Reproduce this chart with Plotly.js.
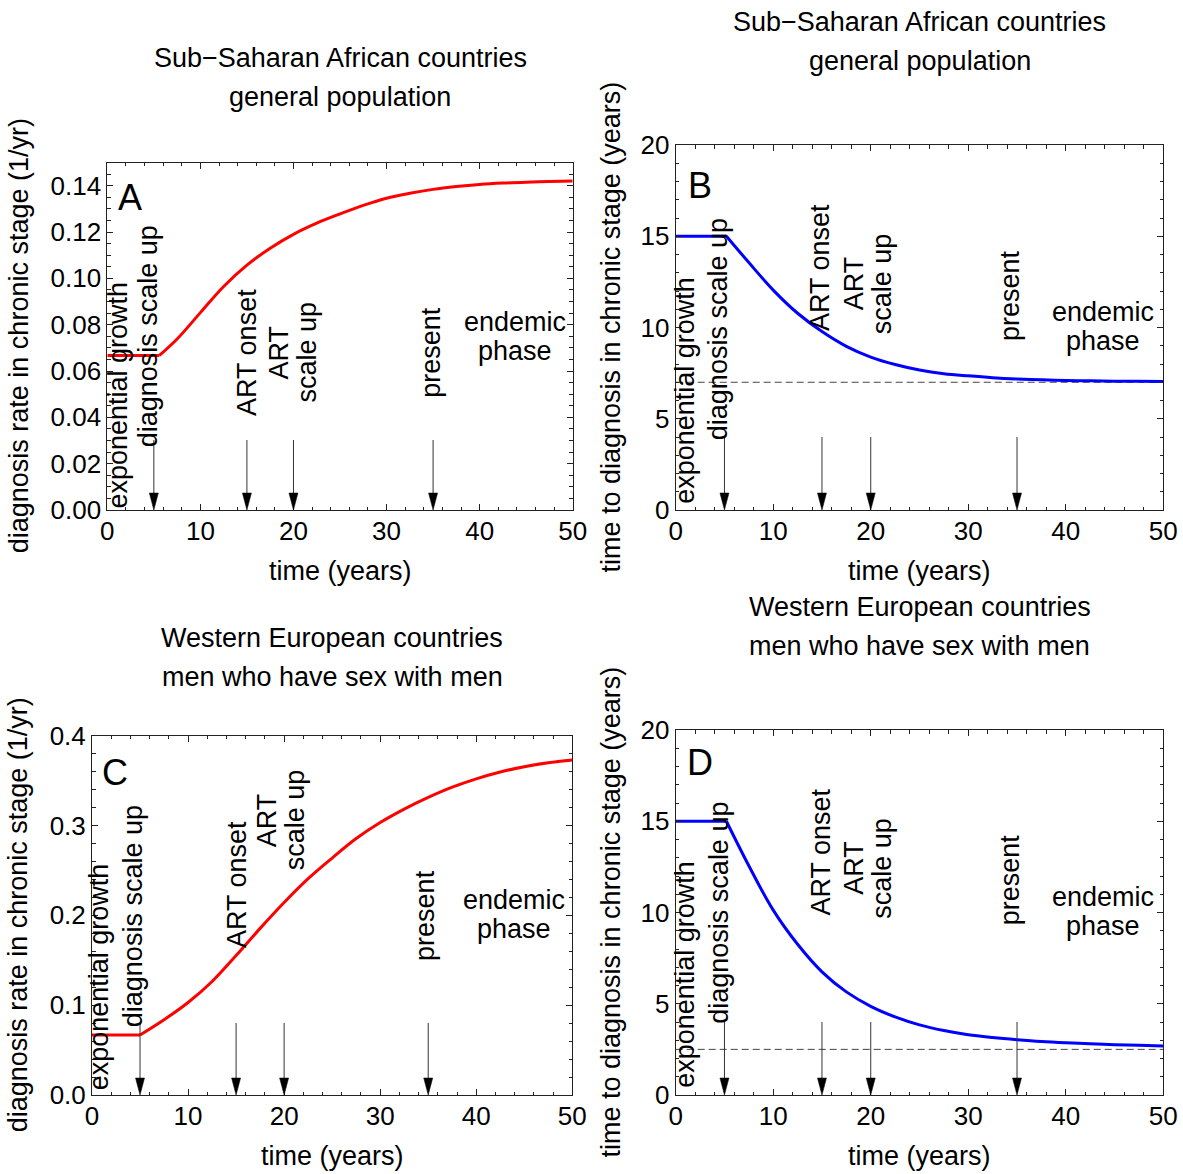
<!DOCTYPE html>
<html>
<head>
<meta charset="utf-8">
<script src="https://cdn.plot.ly/plotly-3.0.1.min.js"></script>
<style>
  html, body { margin: 0; padding: 0; background: #fff; }
  #chart { width: 1183px; height: 1174px; }
</style>
</head>
<body>
<div id="chart"></div>
<script>
const FONT = '"Liberation Sans", Arial, Helvetica, sans-serif';

// Sub-Saharan African countries, general population: diagnosis rate (1/yr)
const tA    = [0, 5.6, 7.5, 10, 12.5, 15, 17.5, 20, 22.5, 25, 27.5, 30, 32.5, 35, 37.5, 40, 42.5, 45, 47.5, 50];
const rateA = [0.0667, 0.0667, 0.0738, 0.0852, 0.0965, 0.1057, 0.1130, 0.1190, 0.1238, 0.1278, 0.1315, 0.1346, 0.1367, 0.1384, 0.1396, 0.1405, 0.1411, 0.1415, 0.1418, 0.1420];

// Sub-Saharan African countries, general population: time to diagnosis (years)
const tB    = [0, 5.2, 7.5, 10, 12.5, 15, 17.5, 20, 22.5, 25, 27.5, 30, 32.5, 35, 37.5, 40, 42.5, 45, 47.5, 50];
const timeB = [15, 15, 13.56, 12.05, 10.78, 9.78, 8.97, 8.38, 7.97, 7.67, 7.47, 7.35, 7.25, 7.18, 7.135, 7.10, 7.08, 7.06, 7.05, 7.04];

// Western European countries, MSM: diagnosis rate (1/yr)
const tC    = [0, 5, 7.5, 10, 12.5, 15, 17.5, 20, 22.5, 25, 27.5, 30, 32.5, 35, 37.5, 40, 42.5, 45, 47.5, 50];
const rateC = [0.0668, 0.0668, 0.0838, 0.1030, 0.1264, 0.1553, 0.1855, 0.2143, 0.2408, 0.2638, 0.2855, 0.3033, 0.3183, 0.3313, 0.3427, 0.3520, 0.3596, 0.3655, 0.3698, 0.3729];

// Western European countries, MSM: time to diagnosis (years)
const tD    = [0, 5.2, 7.5, 10, 12.5, 15, 17.5, 20, 22.5, 25, 27.5, 30, 32.5, 35, 37.5, 40, 42.5, 45, 47.5, 50];
const timeD = [15, 15, 12.56, 10.13, 8.26, 6.75, 5.65, 4.86, 4.28, 3.84, 3.53, 3.30, 3.15, 3.03, 2.93, 2.86, 2.81, 2.76, 2.72, 2.68];

// long-run (endemic) time to diagnosis
const asymptoteB = 7;
const asymptoteD = 2.5;

// epidemic milestones (years)
const eventTimes = [5, 15, 20, 35];

const titleLinesTop = ['Sub\u2212Saharan African countries', 'general population'];
const titleLinesBottom = ['Western European countries', 'men who have sex with men'];
const rateTitle = 'diagnosis rate in chronic stage (1/yr)';
const timeTitle = 'time to diagnosis in chronic stage (years)';
const xTitle = 'time (years)';

const W = 1183, H = 1174;

const panels = [
  { letter: 'A', xa: 'x', ya: 'y', t: tA, v: rateA, color: '#ff0000', asym: null,
    box: { l: 107.3, r: 572.7, t: 162.5, b: 510 },
    yRange: [0, 0.15], yDtick: 0.02, yMinor: 0.005, yFormat: '.2f',
    title: titleLinesTop, titleY: [58, 97], yTitle: rateTitle, yTitleX: 19, xTitleY: 571,
    arrowLen: 70,
    pos: { letter: [2.45, 0.1349], expo: [1.2, 0.0496], diag: [4.4, 0.0751], onset: [15.0, 0.0682],
           scale: [20.0, 0.0682], present: [34.8, 0.068], endemic: [43.8, 0.0751] } },
  { letter: 'B', xa: 'x2', ya: 'y2', t: tB, v: timeB, color: '#0000ff', asym: asymptoteB,
    box: { l: 675.7, r: 1163.3, t: 145, b: 510 },
    yRange: [0, 20], yDtick: 5, yMinor: 1, yFormat: 'd',
    title: titleLinesTop, titleY: [22, 61], yTitle: timeTitle, yTitleX: 610, xTitleY: 571,
    arrowLen: 73,
    pos: { letter: [2.5, 17.8], expo: [0.94, 6.58], diag: [4.36, 9.92], onset: [14.86, 13.29],
           scale: [19.7, 12.41], present: [34.3, 11.73], endemic: [43.8, 10.04] } },
  { letter: 'C', xa: 'x3', ya: 'y3', t: tC, v: rateC, color: '#ff0000', asym: null,
    box: { l: 92, r: 572.3, t: 735.7, b: 1095 },
    yRange: [0, 0.4], yDtick: 0.1, yMinor: 0.02, yFormat: '.1f',
    title: titleLinesBottom, titleY: [638, 677], yTitle: rateTitle, yTitleX: 18, xTitleY: 1156,
    arrowLen: 72,
    pos: { letter: [2.4, 0.359], expo: [0.82, 0.132], diag: [4.29, 0.1993], onset: [15.1, 0.2338],
           scale: [19.7, 0.3061], present: [34.66, 0.2004], endemic: [43.93, 0.2004] } },
  { letter: 'D', xa: 'x4', ya: 'y4', t: tD, v: timeD, color: '#0000ff', asym: asymptoteD,
    box: { l: 675.7, r: 1163.3, t: 730, b: 1095 },
    yRange: [0, 20], yDtick: 5, yMinor: 1, yFormat: 'd',
    title: titleLinesBottom, titleY: [607, 646], yTitle: timeTitle, yTitleX: 610, xTitleY: 1156,
    arrowLen: 73,
    pos: { letter: [2.5, 18.22], expo: [0.94, 6.63], diag: [4.36, 10.0], onset: [14.86, 13.32],
           scale: [19.7, 12.44], present: [34.3, 11.78], endemic: [43.8, 10.04] } }
];

const AXIS_COLOR = '#222';
const tickFont = { family: FONT, size: 26, color: '#000' };
const textFont = { family: FONT, size: 27, color: '#000' };

function axisKey(id) { return (id[0] === 'x' ? 'xaxis' : 'yaxis') + id.slice(1); }

function frameAxis(extra) {
  return Object.assign({
    ticks: 'inside', ticklen: 6, tickwidth: 1, tickcolor: AXIS_COLOR,
    showline: true, linecolor: AXIS_COLOR, linewidth: 1, mirror: 'allticks',
    showgrid: false, zeroline: false, tickfont: tickFont, fixedrange: true
  }, extra);
}

const traces = [];
const shapes = [];
const annotations = [];
const layout = {
  width: W, height: H,
  margin: { l: 0, r: 0, t: 0, b: 0 },
  paper_bgcolor: '#fff', plot_bgcolor: '#fff',
  showlegend: false,
  font: { family: FONT, color: '#000' }
};

function text(str, p, x, y, opt) {
  opt = opt || {};
  annotations.push(Object.assign({
    text: str, xref: p.xa, yref: p.ya, x: x, y: y, showarrow: false,
    xanchor: 'center', yanchor: 'middle', font: textFont
  }, opt));
}

panels.forEach(function (p) {
  const xk = axisKey(p.xa), yk = axisKey(p.ya);
  layout[xk] = frameAxis({
    domain: [p.box.l / W, p.box.r / W], anchor: p.ya,
    range: [0, 50], tick0: 0, dtick: 10, ticklabelstandoff: -2,
    minor: { dtick: 2, ticks: 'inside', ticklen: 3.5, tickwidth: 1, tickcolor: AXIS_COLOR }
  });
  layout[yk] = frameAxis({
    domain: [1 - p.box.b / H, 1 - p.box.t / H], anchor: p.xa,
    range: p.yRange, tick0: 0, dtick: p.yDtick, tickformat: p.yFormat,
    minor: { dtick: p.yMinor, ticks: 'inside', ticklen: 3.5, tickwidth: 1, tickcolor: AXIS_COLOR }
  });

  // dashed endemic level
  if (p.asym !== null) {
    traces.push({
      x: [0, 50], y: [p.asym, p.asym], xaxis: p.xa, yaxis: p.ya,
      mode: 'lines', line: { color: '#444', width: 1, dash: '7px,4px' }, hoverinfo: 'skip'
    });
  }

  // constant pre-scale-up phase, then the smooth transition
  traces.push({
    x: p.t.slice(0, 2), y: p.v.slice(0, 2), xaxis: p.xa, yaxis: p.ya,
    mode: 'lines', line: { color: p.color, width: 3 }, hoverinfo: 'skip'
  });
  traces.push({
    x: p.t.slice(1), y: p.v.slice(1), xaxis: p.xa, yaxis: p.ya,
    mode: 'lines', line: { color: p.color, width: 3, shape: 'spline', smoothing: 1 }, hoverinfo: 'skip'
  });

  // milestone arrows pointing down to the time axis
  eventTimes.forEach(function (tt) {
    shapes.push({
      type: 'line', xref: p.xa, yref: p.ya, xsizemode: 'pixel', ysizemode: 'pixel',
      xanchor: tt, yanchor: 0, x0: 0, x1: 0, y0: 12, y1: p.arrowLen,
      line: { color: '#333', width: 1 }
    });
    shapes.push({
      type: 'path', xref: p.xa, yref: p.ya, xsizemode: 'pixel', ysizemode: 'pixel',
      xanchor: tt, yanchor: 0, path: 'M 0 0 L -4.5 17 L 4.5 17 Z',
      fillcolor: '#000', line: { color: '#000', width: 0.5 }
    });
  });

  const q = p.pos;
  text(p.letter, p, q.letter[0], q.letter[1], { font: { family: FONT, size: 36, color: '#000' } });
  text('exponential growth', p, q.expo[0], q.expo[1], { textangle: -90 });
  text('diagnosis scale up', p, q.diag[0], q.diag[1], { textangle: -90 });
  text('ART onset', p, q.onset[0], q.onset[1], { textangle: -90 });
  text('ART', p, q.scale[0], q.scale[1], { textangle: -90, xshift: -14 });
  text('scale up', p, q.scale[0], q.scale[1], { textangle: -90, xshift: 14 });
  text('present', p, q.present[0], q.present[1], { textangle: -90 });
  text('endemic', p, q.endemic[0], q.endemic[1], { yshift: 14.5 });
  text('phase', p, q.endemic[0], q.endemic[1], { yshift: -14.5 });

  // panel titles and axis titles (paper coordinates)
  const cx = (p.box.l + p.box.r) / 2 / W;
  p.title.forEach(function (line, i) {
    annotations.push({ text: line, xref: 'paper', yref: 'paper', x: cx, y: 1 - p.titleY[i] / H,
      showarrow: false, xanchor: 'center', yanchor: 'middle', font: textFont });
  });
  annotations.push({ text: xTitle, xref: 'paper', yref: 'paper', x: cx, y: 1 - p.xTitleY / H,
    showarrow: false, xanchor: 'center', yanchor: 'middle', font: textFont });
  annotations.push({ text: p.yTitle, xref: 'paper', yref: 'paper', x: p.yTitleX / W,
    y: 1 - (p.box.t + p.box.b) / 2 / H, textangle: -90,
    showarrow: false, xanchor: 'center', yanchor: 'middle', font: textFont });
});

layout.shapes = shapes;
layout.annotations = annotations;

Plotly.newPlot('chart', traces, layout, { staticPlot: true, displayModeBar: false });
</script>
</body>
</html>
